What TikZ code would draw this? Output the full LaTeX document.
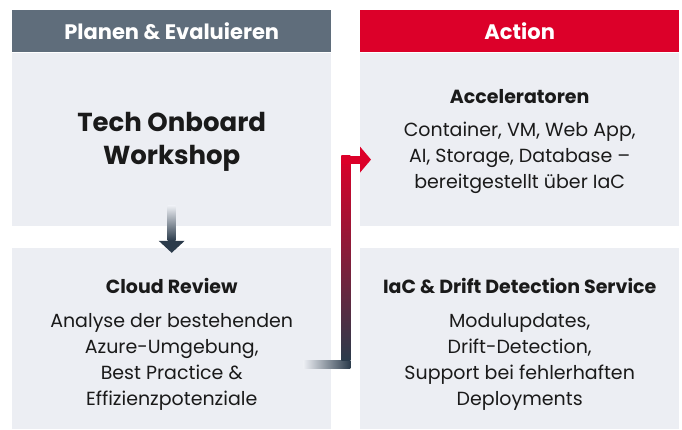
\documentclass[tikz,border=0pt]{standalone}
\usepackage{fontspec}
\setmainfont{Poppins}
\usetikzlibrary{positioning,calc}
\definecolor{panelgray}{HTML}{ECEEF3}
\definecolor{headgray}{HTML}{5F6D7B}
\definecolor{actred}{HTML}{DC0029}
\definecolor{ink}{HTML}{2B3B4B}
\definecolor{textblack}{HTML}{1A1A1A}
\tikzset{
  header/.style={fill=#1, text=white, font=\bfseries\fontsize{21}{24}\selectfont,
    minimum width=319pt, minimum height=42pt, inner sep=0pt},
  panel/.style={fill=panelgray, minimum width=319pt, inner sep=0pt},
  boxtitle/.style={font=\bfseries\fontsize{19}{22}\selectfont, text=textblack},
  boxbody/.style={font=\fontsize{19}{26}\selectfont, align=center, text=textblack},
}

\begin{document}
\begin{tikzpicture}[x=1pt,y=-1pt]
\useasboundingbox (0,0) rectangle (682,430);
% headers
\node[header=headgray, anchor=north west] (plan) at (12,10) {Planen \& Evaluieren};
\node[header=actred, anchor=north west] (act) at (360,10) {Action};
% panels
\node[panel, minimum height=173pt, below=0pt of plan] (tech) {};
\node[panel, minimum height=181pt, below=22pt of tech] (review) {};
\node[panel, minimum height=173pt, below=0pt of act] (accel) {};
\node[panel, minimum height=181pt, below=22pt of accel] (drift) {};

% left column
\node[font=\bfseries\fontsize{26}{33}\selectfont, align=center, text=textblack] (techtxt) at ($(tech.center)+(0,3)$) {Tech Onboard\\Workshop};
\node[boxtitle] (reviewtitle) at ($(review.north)+(0,38)$) {Cloud Review};
\node[boxbody] (reviewtxt) at ($(review.north)+(0,114)$) {Analyse der bestehenden\\Azure-Umgebung,\\Best Practice \&\\Effizienzpotenziale};

% right column
\node[boxtitle] (acceltitle) at ($(accel.north)+(0,44)$) {Acceleratoren};
\node[boxbody] (acceltxt) at ($(accel.north)+(0,105.5)$) {Container, VM, Web App,\\AI, Storage, Database --\\bereitgestellt über IaC};
\node[boxtitle] (drifttitle) at ($(drift.north)+(0,38)$) {IaC \& Drift Detection Service};
\node[boxbody] (drifttxt) at ($(drift.north)+(0,114)$) {Modulupdates,\\Drift-Detection,\\Support bei fehlerhaften\\Deployments};

% down arrow
\shade[top color=panelgray, bottom color=ink] ($(tech.south)+(-4,-20)$) rectangle ($(review.north)+(4,-7)$);
\fill[ink] ($(review.north)+(-13,-7)$) -- ($(review.north)+(13,-7)$) -- ($(review.north)+(0,5)$) -- cycle;

% connector review -> accel
\coordinate (fromreview) at ($(review.east)+(-28,25.5)$);
\coordinate (bend1) at ($(review.east)+(14.5,25.5)$);
\coordinate (bend2) at ($(review.east |- accel.west)+(14.5,20.5)$);
\coordinate (toaccel) at (accel.west |- bend2);
\shade[left color=panelgray, right color=ink] ($(fromreview)+(0,-4)$) rectangle ($(bend1)+(4.5,4)$);
\shade[top color=actred, bottom color=ink] ($(bend2)+(-4.5,-4)$) rectangle ($(bend1)+(4.5,-4)$);
\fill[actred] ($(bend2)+(-4.5,-4)$) rectangle ($(toaccel)+(0,4)$);
\fill[actred] ($(toaccel)+(0,-13)$) -- ($(toaccel)+(11,0)$) -- ($(toaccel)+(0,13)$) -- cycle;
\end{tikzpicture}
\end{document}
